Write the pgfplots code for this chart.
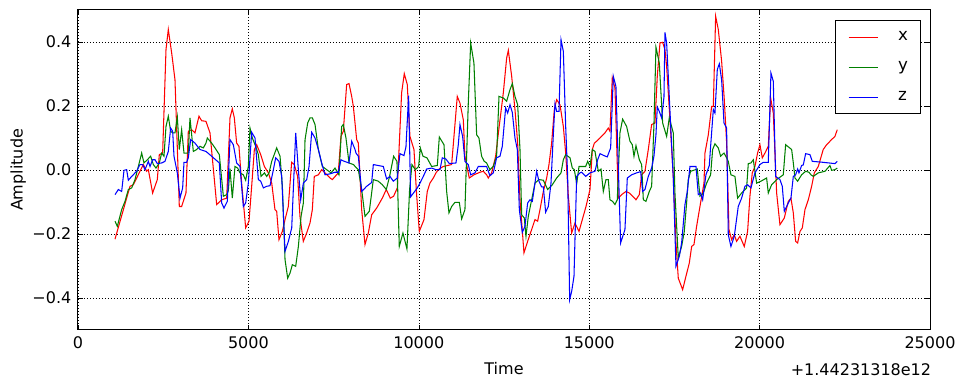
\documentclass[border=0pt]{standalone}
\usepackage{fontspec}
\setmainfont{DejaVu Sans}
\usepackage{pgfplots}
\pgfplotsset{compat=1.18}
\definecolor{mplred}{RGB}{255,0,0}
\definecolor{mplgreen}{RGB}{0,128,0}
\definecolor{mplblue}{RGB}{0,0,255}
\begin{document}
\fontsize{14.4}{17}\selectfont
\begin{tikzpicture}
\begin{axis}[
    name=ax,
    scale only axis,
    width=766.8pt, height=288pt,
    xmin=0, xmax=25000,
    ymin=-0.5, ymax=0.5,
    scaled x ticks=false,
    xtick={0,5000,10000,15000,20000,25000},
    xticklabels={0,5000,10000,15000,20000,25000},
    ytick={-0.4,-0.2,0,0.2,0.4},
    yticklabels={−0.4,−0.2,0.0,0.2,0.4},
    tick align=inside,
    major tick length=4.5pt,
    tick style={black, line width=0.5pt},
    axis line style={black, line width=0.9pt},
    grid=major,
    grid style={black, line width=0.5pt, dash pattern=on 0.9pt off 1.8pt},
    x tick label style={yshift=-1pt},
    y tick label style={xshift=-1pt},
    xlabel={Time},
    ylabel={Amplitude},
    xlabel style={yshift=-2pt},
    ylabel style={yshift=-4pt},
    legend style={at={(0.989,0.969)}, anchor=north east, draw=black,
        line width=0.9pt, inner xsep=11pt, inner ysep=8.5pt,
        column sep=18pt, row sep=14pt,
        nodes={inner sep=0pt, text height=10pt, text depth=3pt},
        font=\fontsize{15}{15}\selectfont},
    legend cell align=left,
    legend image code/.code={\draw[#1, line width=0.95pt] (0pt,0pt) -- (26pt,0pt);},
    every axis plot/.append style={line width=0.95pt},
]
\addplot[draw=mplred] coordinates {
(1086,-0.216) (1526,-0.051) (1624,-0.046) (1917,0.017) (2015,-0.004) (2064,0.001)
(2190,-0.072) (2327,-0.030) (2386,0.048) (2484,0.053) (2582,0.376) (2650,0.439)
(2748,0.366) (2846,0.282) (2973,-0.114) (3041,-0.114) (3168,-0.072) (3237,0.121)
(3334,0.126) (3432,0.116) (3550,0.168) (3628,0.154) (3755,0.152) (3873,0.116)
(4069,-0.108) (4216,-0.093) (4363,-0.088) (4460,0.163) (4528,0.191) (4587,0.163)
(4655,0.084) (4723,0.074) (4802,-0.041) (4920,-0.181) (5018,-0.160) (5096,-0.051)
(5175,0.064) (5243,0.079) (5361,0.048) (5469,0.011) (5586,-0.009) (5684,-0.041)
(5780,-0.124) (5830,-0.129) (5897,-0.218) (5995,-0.192) (6075,-0.155) (6171,-0.114)
(6269,0.024) (6347,0.017) (6445,-0.020) (6513,-0.145) (6611,-0.223) (6709,-0.197)
(6807,-0.166) (6876,-0.124) (6934,-0.020) (7053,-0.015) (7150,0.001) (7248,-0.009)
(7395,-0.025) (7463,-0.030) (7637,-0.009) (7716,0.105) (7785,0.121) (7883,0.267)
(7952,0.270) (8031,0.230) (8079,0.199) (8177,0.095) (8226,0.084) (8324,-0.124)
(8421,-0.233) (8519,-0.197) (8617,-0.140) (8763,-0.119) (8929,-0.088) (9046,-0.061)
(9163,-0.088) (9261,-0.082) (9369,-0.056) (9496,0.241) (9574,0.301) (9662,0.267)
(9740,0.105) (9858,0.064) (9936,-0.077) (10015,-0.192) (10152,-0.155) (10249,-0.067)
(10327,-0.041) (10426,-0.025) (10504,-0.009) (10572,0.001) (10641,0.006) (10719,0.011)
(10964,0.017) (11032,0.105) (11129,0.230) (11208,0.209) (11306,0.157) (11354,0.043)
(11481,-0.025) (11618,-0.015) (11795,-0.007) (11893,-0.004) (11990,-0.015) (12039,-0.025)
(12137,-0.009) (12255,0.043) (12353,0.131) (12480,0.241) (12578,0.350) (12627,0.374)
(12725,0.293) (12822,0.189) (12901,0.084) (12969,-0.093) (13086,-0.259) (13194,-0.223)
(13311,-0.186) (13409,-0.155) (13487,-0.160) (13556,-0.124) (13654,-0.067) (13752,-0.025)
(13820,0.017) (13898,0.084) (13977,0.189) (14045,0.220) (14143,0.204) (14241,0.136)
(14310,0.053) (14388,-0.082) (14485,-0.197) (14583,-0.166) (14701,-0.192) (14798,-0.155)
(14906,-0.114) (15023,-0.061) (15092,0.064) (15151,0.084) (15219,0.090) (15317,0.100)
(15462,0.116) (15560,0.131) (15609,0.121) (15677,0.288) (15756,0.256) (15854,-0.088)
(15951,-0.077) (16080,-0.067) (16177,-0.072) (16275,-0.082) (16373,-0.093) (16471,-0.077)
(16539,-0.015) (16636,-0.004) (16734,0.064) (16832,0.142) (16930,0.147) (16998,0.293)
(17077,0.397) (17155,0.399) (17223,0.376) (17272,0.324) (17370,0.157) (17467,-0.020)
(17546,-0.228) (17614,-0.338) (17742,-0.374) (17839,-0.332) (17937,-0.291) (18006,-0.239)
(18074,-0.233) (18152,-0.176) (18250,-0.114) (18368,-0.041) (18397,0.053) (18495,0.110)
(18593,0.199) (18642,0.199) (18710,0.480) (18788,0.439) (18886,0.340) (18964,0.220)
(19033,0.084) (19101,-0.186) (19179,-0.218) (19257,-0.202) (19325,-0.223) (19423,-0.207)
(19550,-0.239) (19648,-0.192) (19716,-0.082) (19785,-0.009) (19863,0.011) (19941,0.053)
(20010,0.079) (20079,0.038) (20157,0.053) (20255,0.074) (20324,0.225) (20402,0.178)
(20500,-0.072) (20597,-0.171) (20725,-0.150) (20842,-0.098) (20920,-0.088) (20989,-0.134)
(21057,-0.223) (21116,-0.228) (21185,-0.192) (21253,-0.181) (21331,-0.124) (21429,-0.093)
(21527,-0.051) (21605,-0.009) (21722,0.011) (21867,0.064) (21966,0.079) (22113,0.095)
(22210,0.105) (22279,0.126)
};
\addlegendentry{x}
\addplot[draw=mplgreen] coordinates {
(1086,-0.160) (1154,-0.176) (1281,-0.124) (1379,-0.098) (1477,-0.061) (1575,-0.056)
(1672,-0.030) (1770,0.011) (1868,0.053) (1936,0.022) (2034,0.032) (2132,0.043)
(2210,0.017) (2288,0.006) (2386,0.022) (2455,0.053) (2523,0.043) (2582,0.136)
(2650,0.168) (2719,0.121) (2778,0.116) (2846,0.116) (2914,0.166) (2973,0.064)
(3041,0.126) (3110,0.053) (3237,0.053) (3286,0.163) (3384,0.058) (3482,0.064)
(3579,0.074) (3677,0.069) (3755,0.084) (3795,0.100) (3922,0.084) (4020,0.069)
(4147,0.048) (4265,-0.082) (4363,-0.077) (4411,-0.065) (4460,0.004) (4528,-0.088)
(4606,0.011) (4685,0.006) (4753,-0.009) (4851,-0.015) (4920,-0.032) (4998,0.011)
(5047,0.131) (5116,0.100) (5214,0.074) (5292,0.048) (5371,-0.020) (5469,-0.009)
(5537,-0.020) (5606,-0.009) (5684,0.027) (5830,0.069) (5928,0.043) (5997,-0.051)
(6075,-0.280) (6153,-0.338) (6222,-0.322) (6290,-0.296) (6388,-0.301) (6466,-0.239)
(6545,-0.145) (6613,-0.103) (6662,0.095) (6740,0.147) (6808,0.163) (6876,0.163)
(6955,0.142) (7053,0.064) (7170,0.011) (7297,0.001) (7424,-0.009) (7541,0.006)
(7658,-0.015) (7736,0.136) (7785,0.142) (7863,0.100) (7952,0.022) (8079,0.017)
(8226,0.001) (8324,-0.061) (8421,-0.145) (8548,-0.129) (8666,-0.030) (8812,-0.035)
(8929,-0.046) (9046,-0.061) (9143,-0.020) (9261,0.043) (9359,0.027) (9427,-0.239)
(9535,-0.197) (9584,-0.218) (9652,-0.247) (9730,-0.061) (9799,0.017) (9897,0.001)
(9995,0.011) (10045,0.069) (10123,0.043) (10240,0.038) (10377,0.011) (10543,0.014)
(10602,0.103) (10739,0.079) (10817,-0.067) (10885,-0.134) (10964,-0.114) (11062,-0.101)
(11189,-0.101) (11257,-0.153) (11354,-0.124) (11452,0.209) (11522,0.397) (11618,0.334)
(11697,0.110) (11765,0.100) (11843,0.043) (11921,0.027) (11990,0.022) (12087,0.001)
(12185,0.011) (12283,0.043) (12353,0.230) (12480,0.225) (12578,0.215) (12676,0.251)
(12744,0.270) (12822,0.230) (12901,0.204) (12969,0.064) (13018,-0.140) (13096,-0.150)
(13145,-0.207) (13213,-0.145) (13311,-0.093) (13409,-0.041) (13526,-0.030) (13654,-0.032)
(13781,-0.061) (13918,-0.046) (14045,-0.025) (14173,-0.009) (14241,0.032) (14310,0.048)
(14437,0.038) (14505,0.006) (14564,0.001) (14632,-0.043) (14701,0.011) (14896,0.011)
(14955,0.027) (15023,0.011) (15092,0.064) (15170,0.058) (15268,-0.004) (15346,0.003)
(15414,-0.067) (15492,-0.030) (15560,-0.030) (15609,-0.093) (15687,-0.098) (15756,-0.108)
(15824,-0.093) (15902,0.116) (15981,0.159) (16098,0.136) (16196,0.090) (16265,0.079)
(16314,0.043) (16373,0.076) (16471,0.032) (16539,0.017) (16588,-0.093) (16666,-0.098)
(16764,-0.067) (16832,-0.051) (16900,0.142) (16959,0.384) (17057,0.334) (17155,0.147)
(17272,0.105) (17350,0.163) (17467,0.116) (17516,-0.072) (17614,-0.275) (17712,-0.239)
(17790,-0.192) (17858,-0.103) (17907,-0.030) (17976,-0.004) (18172,0.003) (18250,-0.082)
(18348,-0.072) (18446,-0.041) (18563,-0.015) (18622,0.064) (18690,0.082) (18788,0.069)
(18857,0.043) (18955,0.053) (19033,0.038) (19081,0.027) (19159,-0.015) (19276,-0.020)
(19355,-0.088) (19472,-0.072) (19619,-0.056) (19668,0.020) (19746,0.022) (19815,0.032)
(19913,-0.041) (20040,-0.035) (20206,-0.025) (20255,-0.072) (20353,-0.046) (20500,-0.030)
(20695,-0.015) (20764,0.079) (20940,0.064) (20989,0.022) (21038,-0.025) (21116,-0.035)
(21233,-0.015) (21351,-0.004) (21448,-0.007) (21507,-0.015) (21576,-0.020) (21722,-0.009)
(21918,-0.004) (22064,0.014) (22113,-0.001) (22210,0.001) (22279,0.006)
};
\addlegendentry{y}
\addplot[draw=mplblue] coordinates {
(1086,-0.077) (1184,-0.061) (1281,-0.067) (1350,-0.001) (1428,0.001) (1477,-0.032)
(1575,-0.020) (1721,-0.004) (1819,0.017) (1897,0.017) (1966,0.001) (2064,0.027)
(2113,0.011) (2190,0.032) (2259,0.032) (2327,0.020) (2455,0.022) (2552,0.027)
(2650,0.058) (2719,0.131) (2778,0.121) (2817,0.043) (2914,-0.009) (2993,-0.088)
(3071,-0.056) (3110,0.024) (3188,0.024) (3237,0.038) (3306,0.095) (3432,0.084)
(3579,0.064) (3755,0.058) (3922,0.043) (4147,0.022) (4216,-0.103) (4284,-0.119)
(4382,-0.098) (4460,0.095) (4558,0.079) (4655,0.022) (4753,0.011) (4851,-0.114)
(4920,-0.103) (4998,-0.041) (5096,0.118) (5194,0.100) (5292,-0.030) (5361,-0.035)
(5440,-0.056) (5537,-0.051) (5635,-0.049) (5733,0.001) (5801,0.038) (5899,0.027)
(5977,-0.020) (6075,-0.254) (6173,-0.223) (6271,-0.181) (6388,0.116) (6466,0.001)
(6535,-0.093) (6613,-0.041) (6711,-0.030) (6779,0.011) (6857,0.118) (6955,0.100)
(7053,0.064) (7150,0.022) (7248,-0.015) (7395,-0.012) (7541,-0.007) (7639,-0.007)
(7716,0.032) (7814,0.027) (7952,0.022) (8031,0.090) (8129,0.064) (8157,0.053)
(8226,0.043) (8324,-0.067) (8470,-0.051) (8617,-0.039) (8666,0.017) (8812,0.014)
(8959,0.011) (9056,-0.028) (9154,-0.020) (9252,-0.035) (9369,-0.025) (9447,0.051)
(9564,0.045) (9623,0.072) (9701,0.232) (9760,-0.084) (9858,-0.070) (9956,-0.056)
(10035,-0.041) (10132,-0.020) (10230,0.003) (10377,0.006) (10504,0.001) (10621,0.001)
(10690,0.038) (10797,0.034) (10895,0.020) (11091,0.022) (11159,0.079) (11208,0.142)
(11286,0.105) (11354,0.027) (11452,0.017) (11522,-0.015) (11648,-0.009) (11745,0.011)
(11990,0.011) (12087,-0.018) (12185,-0.009) (12283,0.038) (12382,0.043) (12450,0.074)
(12548,0.194) (12607,0.178) (12676,0.204) (12744,0.180) (12822,0.100) (12891,0.064)
(12950,-0.124) (13037,-0.195) (13115,-0.176) (13194,-0.103) (13262,-0.093) (13331,-0.098)
(13389,-0.056) (13458,-0.004) (13526,-0.035) (13605,-0.053) (13654,-0.053) (13722,-0.132)
(13800,-0.114) (13879,-0.041) (13947,0.110) (13996,0.207) (14045,0.183) (14114,0.183)
(14173,0.407) (14241,0.371) (14310,0.136) (14368,-0.020) (14427,-0.405) (14486,-0.379)
(14554,-0.332) (14632,-0.020) (14730,-0.009) (14779,-0.007) (14896,-0.020) (15023,-0.009)
(15170,-0.004) (15248,0.032) (15317,0.051) (15433,0.045) (15531,0.041) (15629,0.069)
(15707,0.293) (15785,0.261) (15854,0.011) (15922,-0.228) (16049,-0.186) (16118,-0.025)
(16245,-0.015) (16392,-0.009) (16510,-0.005) (16568,-0.067) (16636,-0.061) (16734,-0.020)
(16832,0.006) (16900,0.043) (16959,0.110) (16998,0.197) (17057,0.183) (17125,0.163)
(17194,0.228) (17223,0.430) (17272,0.397) (17321,0.293) (17389,0.142) (17467,-0.025)
(17546,-0.301) (17644,-0.270) (17712,-0.228) (17810,-0.108) (17878,-0.067) (17956,0.011)
(18133,0.011) (18201,-0.077) (18270,-0.072) (18329,-0.093) (18426,-0.015) (18524,0.014)
(18563,0.074) (18642,0.189) (18690,0.178) (18759,0.314) (18818,0.332) (18886,0.282)
(18955,0.147) (19032,0.131) (19081,-0.202) (19159,-0.239) (19257,-0.207) (19374,-0.114)
(19472,-0.088) (19570,-0.051) (19648,-0.046) (19746,-0.056) (19863,-0.009) (20010,0.017)
(20108,0.024) (20255,0.024) (20333,0.303) (20402,0.277) (20470,-0.020) (20597,-0.030)
(20666,-0.051) (20725,-0.129) (20842,-0.103) (20920,-0.088) (20989,-0.020) (21057,-0.015)
(21116,0.003) (21155,-0.009) (21233,0.014) (21282,0.016) (21351,0.051) (21478,0.048)
(21546,0.027) (21771,0.025) (22210,0.020) (22279,0.027)
};
\addlegendentry{z}
\end{axis}
\node[anchor=base east] at ([xshift=6pt,yshift=-41pt]ax.south east) {+1.44231318e12};
\pgfresetboundingbox
\path ([xshift=-70.2pt,yshift=-52.2pt]ax.south west) rectangle ([xshift=31.5pt,yshift=9pt]ax.north east);
\end{tikzpicture}
\end{document}
